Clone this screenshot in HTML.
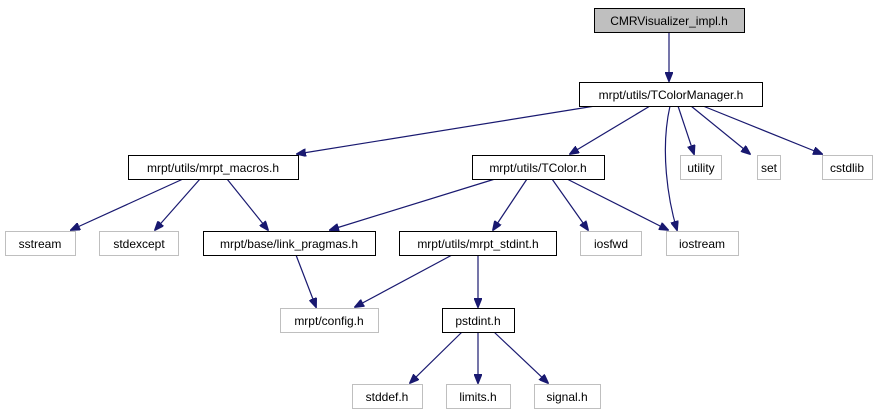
<!DOCTYPE html>
<html><head><meta charset="utf-8"><style>
html,body{margin:0;padding:0;background:#fff;}
svg text{font-family:"Liberation Sans",sans-serif;font-size:12px;text-anchor:middle;fill:#000;}
</style></head><body>
<svg width="883" height="411" viewBox="0 0 883 411" xmlns="http://www.w3.org/2000/svg">
<defs><marker id="a" markerWidth="10" markerHeight="8" refX="9" refY="4" orient="auto" markerUnits="userSpaceOnUse"><path d="M0,0 L10,4 L0,8 z" fill="#191970" stroke="#191970"/></marker></defs>
<g stroke="#191970" stroke-width="1.2" fill="none" marker-end="url(#a)">
<line x1="669" y1="32" x2="669" y2="81"/>
<line x1="595" y1="106" x2="297" y2="154"/>
<line x1="650" y1="106" x2="570" y2="154"/>
<path d="M670,106 C660,150 668,200 677,230"/>
<line x1="678" y1="106" x2="694" y2="154"/>
<line x1="691" y1="106" x2="750" y2="154"/>
<line x1="703" y1="106" x2="822" y2="154"/>
<line x1="183" y1="179" x2="71" y2="230"/>
<line x1="200" y1="179" x2="155" y2="230"/>
<line x1="227" y1="179" x2="268" y2="230"/>
<line x1="495" y1="179" x2="330" y2="230"/>
<line x1="527" y1="179" x2="493" y2="230"/>
<line x1="552" y1="179" x2="588" y2="230"/>
<line x1="567" y1="179" x2="668" y2="230"/>
<line x1="296" y1="255" x2="316" y2="307"/>
<line x1="452" y1="255" x2="355" y2="307"/>
<line x1="478" y1="255" x2="478" y2="307"/>
<line x1="462" y1="332" x2="410" y2="383"/>
<line x1="478" y1="332" x2="478" y2="383"/>
<line x1="494" y1="332" x2="548" y2="383"/>
</g>
<g stroke-width="1">
<rect x="594.5" y="8.5" width="150" height="24" fill="#bfbfbf" stroke="#000"/>
<rect x="579.5" y="82.5" width="183" height="24" fill="#fff" stroke="#000"/>
<rect x="128.5" y="155.5" width="170" height="24" fill="#fff" stroke="#000"/>
<rect x="472.5" y="155.5" width="132" height="24" fill="#fff" stroke="#000"/>
<rect x="680.5" y="155.5" width="41" height="24" fill="#fff" stroke="#bfbfbf"/>
<rect x="757.5" y="155.5" width="23" height="24" fill="#fff" stroke="#bfbfbf"/>
<rect x="822.5" y="155.5" width="50" height="24" fill="#fff" stroke="#bfbfbf"/>
<rect x="5.5" y="231.5" width="70" height="24" fill="#fff" stroke="#bfbfbf"/>
<rect x="99.5" y="231.5" width="79" height="24" fill="#fff" stroke="#bfbfbf"/>
<rect x="203.5" y="231.5" width="172" height="24" fill="#fff" stroke="#000"/>
<rect x="399.5" y="231.5" width="157" height="24" fill="#fff" stroke="#000"/>
<rect x="580.5" y="231.5" width="61" height="24" fill="#fff" stroke="#bfbfbf"/>
<rect x="666.5" y="231.5" width="72" height="24" fill="#fff" stroke="#bfbfbf"/>
<rect x="280.5" y="308.5" width="98" height="24" fill="#fff" stroke="#bfbfbf"/>
<rect x="442.5" y="308.5" width="72" height="24" fill="#fff" stroke="#000"/>
<rect x="352.5" y="384.5" width="70" height="24" fill="#fff" stroke="#bfbfbf"/>
<rect x="446.5" y="384.5" width="64" height="24" fill="#fff" stroke="#bfbfbf"/>
<rect x="534.5" y="384.5" width="66" height="24" fill="#fff" stroke="#bfbfbf"/>
</g>
<text x="669" y="25">CMRVisualizer_impl.h</text>
<text x="671" y="99">mrpt/utils/TColorManager.h</text>
<text x="213" y="172">mrpt/utils/mrpt_macros.h</text>
<text x="538" y="172">mrpt/utils/TColor.h</text>
<text x="701" y="172">utility</text>
<text x="769" y="172">set</text>
<text x="847" y="172">cstdlib</text>
<text x="40" y="248">sstream</text>
<text x="139" y="248">stdexcept</text>
<text x="289" y="248">mrpt/base/link_pragmas.h</text>
<text x="478" y="248">mrpt/utils/mrpt_stdint.h</text>
<text x="611" y="248">iosfwd</text>
<text x="702" y="248">iostream</text>
<text x="329" y="325">mrpt/config.h</text>
<text x="478" y="325">pstdint.h</text>
<text x="387" y="401">stddef.h</text>
<text x="478" y="401">limits.h</text>
<text x="567" y="401">signal.h</text>
</svg>
</body></html>
